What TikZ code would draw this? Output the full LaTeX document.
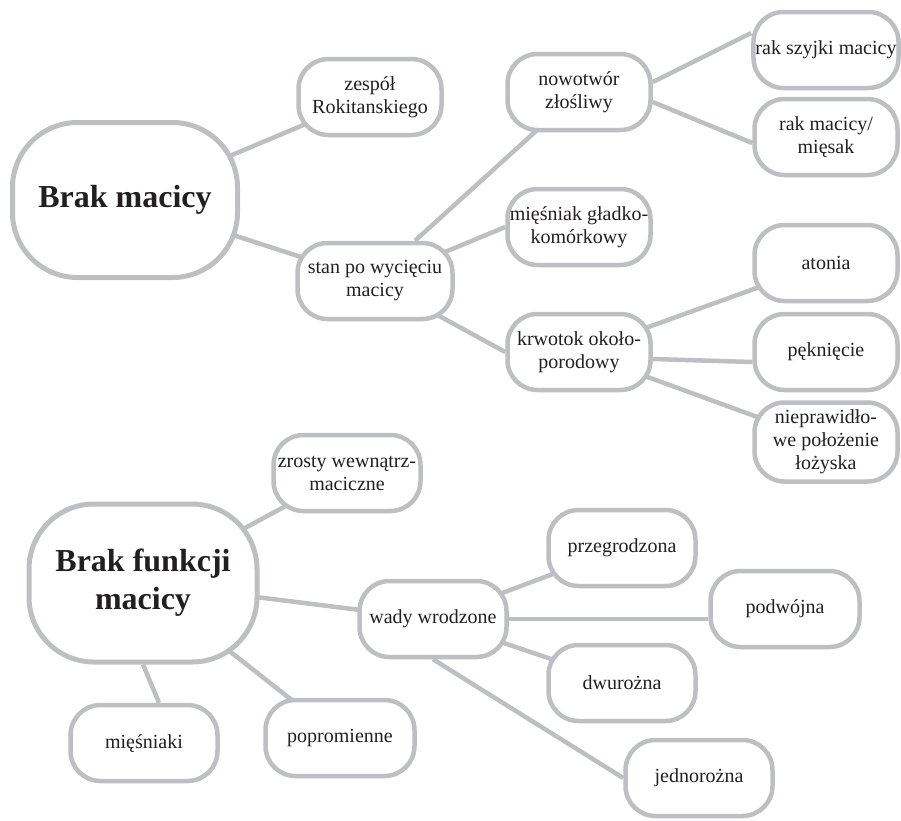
\documentclass[tikz,border=0pt]{standalone}
\usepackage{fontspec}
\setmainfont{Liberation Serif}
\usetikzlibrary{backgrounds}
\definecolor{mapgray}{RGB}{190,191,195}
\definecolor{mapink}{RGB}{35,31,32}

\begin{document}
\begin{tikzpicture}[x=1pt,y=-1pt,thick,
    main node/.style={draw=mapgray,line width=5pt,fill=white,rounded corners=65pt,minimum width=225pt,minimum height=155pt,align=center,text=mapink,font=\fontsize{32}{38}\selectfont\bfseries},
    leaf node/.style={draw=mapgray,line width=4.5pt,fill=white,rounded corners=30pt,minimum width=143pt,minimum height=76pt,inner xsep=2pt,inner ysep=2pt,align=center,text=mapink,font=\fontsize{20}{23}\selectfont}]
                \useasboundingbox (0,0) rectangle (901,820);

                \node[main node] (brak) at (125,200) {Brak macicy};
                \node[leaf node] (zespol) at (370,97) {zespół\\Rokitanskiego};
                \node[leaf node,minimum width=155pt] (stan) at (375,281) {stan po wycięciu\\macicy};
                \node[leaf node] (nowotwor) at (579,92) {nowotwór\\złośliwy};
                \node[leaf node] (miesniak) at (579,227) {mięśniak gładko-\\komórkowy};
                \node[leaf node] (krwotok) at (579,352) {krwotok około-\\porodowy};
                \node[leaf node] (szyjka) at (826,50) {rak szyjki macicy};
                \node[leaf node] (miesak) at (826,137) {rak macicy/\\mięsak};
                \node[leaf node] (atonia) at (826,263) {atonia};
                \node[leaf node] (pekniecie) at (826,352) {pęknięcie};
                \node[leaf node,minimum height=79pt] (lozysko) at (826,442) {nieprawidło-\\we położenie\\łożyska};

                \node[main node,minimum width=228pt,minimum height=158pt] (funkcja) at (143,583) {Brak funkcji\\macicy};
                \node[leaf node,minimum width=147pt] (zrosty) at (347,473) {zrosty wewnątrz-\\maciczne};
                \node[leaf node,minimum width=147pt] (wady) at (433,619) {wady wrodzone};
                \node[leaf node,minimum width=147pt] (miesniaki) at (144,743) {mięśniaki};
                \node[leaf node,minimum width=149pt] (popromienne) at (340,738) {popromienne};
                \node[leaf node,minimum width=147pt] (przegrodzona) at (622,548) {przegrodzona};
                \node[leaf node,minimum width=149pt] (podwojna) at (785,609) {podwójna};
                \node[leaf node,minimum width=147pt] (dwurozna) at (622,683) {dwurożna};
                \node[leaf node,minimum width=147pt] (jednorozna) at (699,778) {jednorożna};

                \begin{scope}[on background layer]
                \path[every edge/.style={draw=mapgray,line width=4.5pt}]
                    (brak.center) edge (zespol.center)
                    (brak.center) edge (stan.center)
                    ([xshift=40pt]stan.north) edge (nowotwor.center)
                    (stan.center) edge (miesniak.west)
                    (stan.center) edge (krwotok.west)
                    ([yshift=10pt]nowotwor.east) edge ([yshift=17pt]szyjka.west)
                    ([yshift=-10pt]nowotwor.east) edge ([yshift=-6pt]miesak.west)
                    (krwotok.center) edge (atonia.center)
                    ([yshift=-7pt]krwotok.east) edge ([yshift=-10pt]pekniecie.west)
                    (krwotok.center) edge (lozysko.center)
                    (funkcja.center) edge (zrosty.center)
                    (funkcja.center) edge (wady.center)
                    (funkcja.south) edge ([xshift=15pt]miesniaki.north)
                    (funkcja.center) edge (popromienne.center)
                    (wady.center) edge (przegrodzona.center)
                    (wady.east) edge (wady.east -| podwojna.west)
                    (wady.center) edge (dwurozna.center)
                    (wady.south) edge (jednorozna.west)
                    ;
                \end{scope}
            \end{tikzpicture}
\end{document}
